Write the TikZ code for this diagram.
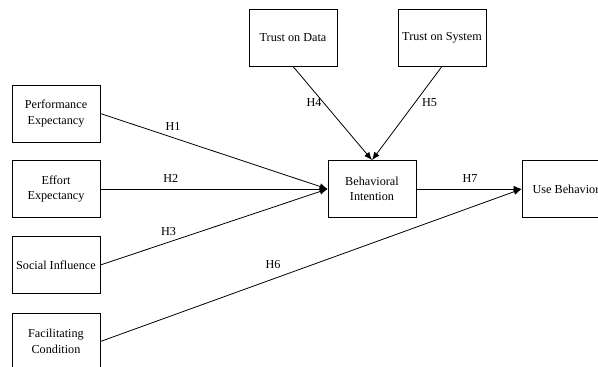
\documentclass[tikz,border=0pt]{standalone}
\usepackage{fontspec}
\setmainfont{Liberation Serif}
\usetikzlibrary{arrows.meta}
\tikzset{
  box/.style={draw, line width=0.8pt, fill=white, minimum width=88pt, minimum height=57pt,
    align=center, inner sep=1pt, font=\fontsize{12.2}{15.5}\selectfont},
  hyp/.style={font=\fontsize{12.2}{14}\selectfont, inner sep=1pt},
  arr/.style={every edge/.append style={line width=0.8pt, -{Latex[length=8pt,width=6.5pt]}}}
}
\begin{document}
\begin{tikzpicture}[x=1pt,y=-1pt]
\path[use as bounding box, clip] (0,0) rectangle (598,367);

\node[box] (td) at (293,37.5) {Trust on Data};
\node[box] (ts) at (442,37.5) {Trust on System};
\node[box] (pe) at (56,113.5) {Performance\\Expectancy};
\node[box] (ee) at (56,189) {Effort\\Expectancy};
\node[box] (si) at (56,265) {Social Influence};
\node[box] (fc) at (56,341.5) {Facilitating\\Condition};
\node[box] (bi) at (372,189) {Behavioral\\Intention};
\node[box] (ub) at (566,189) {Use Behavior};

\path[arr]
(pe.east) edge node[hyp, pos=.32, above=5.5pt] {H1} (bi.west)
(ee.east) edge node[hyp, pos=.31, above=5pt] {H2} (bi.west)
(si.east) edge node[hyp, pos=.30, above=5.5pt] {H3} (bi.west)
(td.south) edge node[hyp, pos=.39, left=1pt] {H4} (bi.north)
(ts.south) edge node[hyp, pos=.39, right=6pt] {H5} (bi.north)
(fc.east) edge node[hyp, pos=.41, above=9pt] {H6} (ub.west)
(bi.east) edge node[hyp, pos=.51, above=5pt] {H7} (ub.west)
;
\end{tikzpicture}
\end{document}
